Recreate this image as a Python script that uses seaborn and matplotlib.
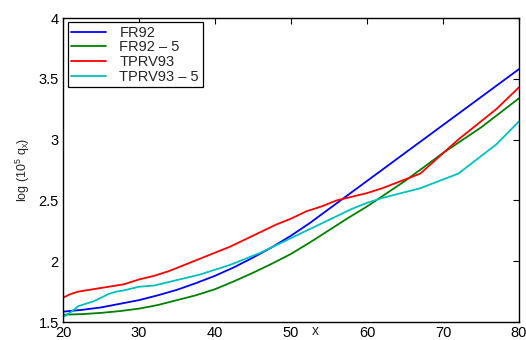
import numpy as np
import pandas as pd
import matplotlib
matplotlib.use("Agg")
import matplotlib.pyplot as plt
import seaborn as sns

# Mortality curves: log(10^5 q_x) by age x
x_fr92 = [20, 22.5, 25, 27.5, 30, 32.5, 35, 37.5, 40, 42.5, 45, 47.5, 50, 52.5,
          55, 57.5, 60, 65, 70, 75, 80]
y_fr92 = [1.585, 1.60, 1.62, 1.65, 1.68, 1.72, 1.765, 1.82, 1.88, 1.95, 2.03,
          2.115, 2.21, 2.315, 2.43, 2.545, 2.66, 2.89, 3.12, 3.35, 3.58]

x_fr92_5 = [20, 22.5, 25, 27.5, 30, 32.5, 35, 37.5, 40, 42.5, 45, 47.5, 50, 52.5,
            55, 57.5, 60, 62.5, 65, 67.5, 70, 72.5, 75, 77.5, 80]
y_fr92_5 = [1.56, 1.565, 1.575, 1.59, 1.61, 1.64, 1.68, 1.72, 1.77, 1.835, 1.905,
            1.98, 2.06, 2.155, 2.255, 2.355, 2.45, 2.555, 2.66, 2.775, 2.89,
            2.995, 3.10, 3.22, 3.34]

x_tprv93 = [20, 21, 22, 24, 26, 28, 30, 32, 34, 36, 38, 40, 42, 44, 46, 48,
            50, 52, 54, 56, 58, 60, 62, 67, 72, 77, 80]
y_tprv93 = [1.70, 1.73, 1.75, 1.77, 1.79, 1.81, 1.85, 1.88, 1.92, 1.97, 2.02, 2.07,
            2.12, 2.18, 2.24, 2.30, 2.35, 2.41, 2.45, 2.50, 2.53, 2.56, 2.60,
            2.72, 3.00, 3.25, 3.43]

x_tprv93_5 = [20, 21, 22, 23, 24, 25, 26, 27, 28, 30, 32, 34, 36, 38, 40, 42, 44,
              46, 48, 50, 52, 54, 56, 58, 60, 62, 67, 72, 77, 80]
y_tprv93_5 = [1.54, 1.58, 1.63, 1.65, 1.67, 1.70, 1.73, 1.75, 1.76, 1.79, 1.80,
              1.83, 1.86, 1.89, 1.93, 1.97, 2.02, 2.07, 2.13, 2.19, 2.25, 2.31,
              2.37, 2.43, 2.48, 2.52, 2.60, 2.72, 2.96, 3.15]

series_names = ["FR92", "FR92 \u2013 5", "TPRV93", "TPRV93 \u2013 5"]
series_colors = ["#0000ff", "#008000", "#ff0000", "#00bfbf"]

frames = []
for name, xs, ys in zip(series_names,
                        [x_fr92, x_fr92_5, x_tprv93, x_tprv93_5],
                        [y_fr92, y_fr92_5, y_tprv93, y_tprv93_5]):
    frames.append(pd.DataFrame({"x": xs, "y": ys, "table": name}))
df = pd.concat(frames, ignore_index=True)

sns.set_theme(style="white")
plt.rcParams["font.family"] = ["Liberation Sans", "DejaVu Sans"]
plt.rcParams["mathtext.fontset"] = "custom"
plt.rcParams["mathtext.rm"] = "Liberation Sans"
plt.rcParams["mathtext.it"] = "Liberation Sans"

fig = plt.figure(figsize=(5.26, 3.40), dpi=100)
ax = fig.add_axes([0.1198, 0.0529, 0.8669, 0.8941])

sns.lineplot(data=df, x="x", y="y", hue="table", hue_order=series_names,
             palette=series_colors, linewidth=1.3, ax=ax, sort=True,
             estimator=None)

ax.set_xlim(20, 80)
ax.set_ylim(1.5, 4)
ax.set_xticks([20, 30, 40, 50, 60, 70, 80])
ax.set_yticks([1.5, 2, 2.5, 3, 3.5, 4])
ax.set_yticklabels(["1.5", "2", "2.5", "3", "3.5", "4"])

for side in ["top", "right", "bottom", "left"]:
    ax.spines[side].set_visible(True)
    ax.spines[side].set_color("black")
    ax.spines[side].set_linewidth(1.0)

ax.tick_params(direction="in", length=4, width=0.8, colors="black",
               labelsize=10.5, top=True, right=True, pad=3)

ax.set_ylabel("log (10$^{5}$ q$_{x}$)", fontsize=9, labelpad=5)
ax.set_xlabel("x", fontsize=10)
ax.xaxis.set_label_coords(0.553, -0.008)
ax.xaxis.label.set_va("top")

leg = ax.legend(loc="upper left", bbox_to_anchor=(0.01, 0.987),
                fontsize=10.5, frameon=True, fancybox=False,
                edgecolor="black", framealpha=1.0, handlelength=2.4,
                handletextpad=0.9, labelspacing=0.05, borderpad=0.25,
                borderaxespad=0.0)
leg.get_frame().set_linewidth(0.9)
for h in leg.get_lines():
    h.set_linewidth(1.3)

fig.savefig("out.png", dpi=100)
